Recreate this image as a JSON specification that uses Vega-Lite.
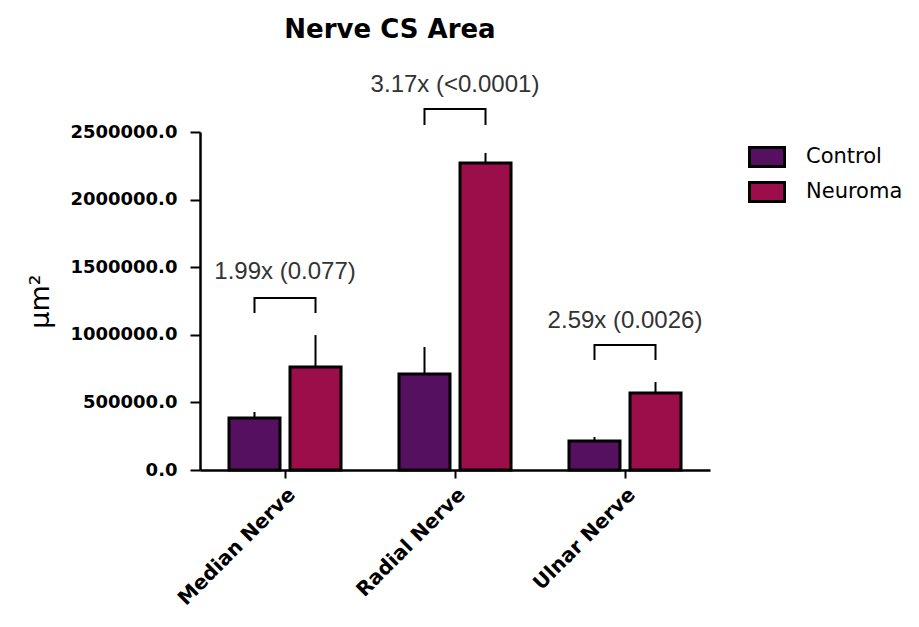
{
  "$schema": "https://vega.github.io/schema/vega-lite/v6.json",
  "width": 510,
  "height": 338,
  "autosize": {"type": "none"},
  "padding": {"left": 200, "top": 132, "right": 209, "bottom": 157},
  "background": "white",
  "title": {"text": "Nerve CS Area", "font": "DejaVu Sans", "fontSize": 26, "fontWeight": "bold", "color": "black", "dx": -65, "offset": 30},
  "config": {"view": {"stroke": null}, "font": "DejaVu Sans"},
  "datasets": {
    "bars": [
      {"nerve": "Median Nerve", "group": "Control", "mean": 385000, "upper": 429000},
      {"nerve": "Median Nerve", "group": "Neuroma", "mean": 762000, "upper": 998000},
      {"nerve": "Radial Nerve", "group": "Control", "mean": 710000, "upper": 910000},
      {"nerve": "Radial Nerve", "group": "Neuroma", "mean": 2271000, "upper": 2345000},
      {"nerve": "Ulnar Nerve", "group": "Control", "mean": 215000, "upper": 244000},
      {"nerve": "Ulnar Nerve", "group": "Neuroma", "mean": 570000, "upper": 651000}
    ],
    "brackets": [
      {"nerve": "Median Nerve", "group": "Control", "v": 1161000, "ord": 1},
      {"nerve": "Median Nerve", "group": "Control", "v": 1272000, "ord": 2},
      {"nerve": "Median Nerve", "group": "Neuroma", "v": 1272000, "ord": 3},
      {"nerve": "Median Nerve", "group": "Neuroma", "v": 1161000, "ord": 4},
      {"nerve": "Radial Nerve", "group": "Control", "v": 2552000, "ord": 1},
      {"nerve": "Radial Nerve", "group": "Control", "v": 2670000, "ord": 2},
      {"nerve": "Radial Nerve", "group": "Neuroma", "v": 2670000, "ord": 3},
      {"nerve": "Radial Nerve", "group": "Neuroma", "v": 2552000, "ord": 4},
      {"nerve": "Ulnar Nerve", "group": "Control", "v": 814000, "ord": 1},
      {"nerve": "Ulnar Nerve", "group": "Control", "v": 924000, "ord": 2},
      {"nerve": "Ulnar Nerve", "group": "Neuroma", "v": 924000, "ord": 3},
      {"nerve": "Ulnar Nerve", "group": "Neuroma", "v": 814000, "ord": 4}
    ],
    "labels": [
      {"nerve": "Median Nerve", "label": "1.99x (0.077)", "ty": 1464000},
      {"nerve": "Radial Nerve", "label": "3.17x (<0.0001)", "ty": 2848000},
      {"nerve": "Ulnar Nerve", "label": "2.59x (0.0026)", "ty": 1102000}
    ]
  },
  "layer": [
    {
      "data": {"name": "bars"},
      "mark": {"type": "bar", "stroke": "black", "strokeWidth": 3},
      "encoding": {
        "x": {"field": "nerve", "type": "nominal", "sort": ["Median Nerve", "Radial Nerve", "Ulnar Nerve"],
          "scale": {"paddingInner": 0, "paddingOuter": 0},
          "axis": {"title": null, "labelAngle": -45, "labelFont": "DejaVu Sans", "labelFontWeight": "bold", "labelFontSize": 20, "labelColor": "black", "domainColor": "black", "domainWidth": 2.5, "tickColor": "black", "tickWidth": 2, "tickSize": 8, "bandPosition": 0.5, "labelPadding": 6}},
        "xOffset": {"field": "group", "type": "nominal", "sort": ["Control", "Neuroma"], "scale": {"paddingInner": 0.164, "paddingOuter": 0.475}},
        "y": {"field": "mean", "type": "quantitative", "stack": null,
          "scale": {"domain": [0, 2500000], "nice": false},
          "axis": {"title": "μm²", "titleFont": "DejaVu Sans", "titleFontSize": 27, "titleFontWeight": "normal", "titleColor": "black", "titleAngle": -90, "titleX": -160, "titleY": 169, "titleAlign": "center", "titleBaseline": "middle",
            "values": [0, 500000, 1000000, 1500000, 2000000, 2500000], "format": ".1f", "grid": false,
            "labelFont": "DejaVu Sans", "labelFontWeight": "bold", "labelFontSize": 18, "labelColor": "black", "labelPadding": 13,
            "domainColor": "black", "domainWidth": 2.5, "tickColor": "black", "tickWidth": 2, "tickSize": 10}},
        "color": {"field": "group", "type": "nominal",
          "scale": {"domain": ["Control", "Neuroma"], "range": ["#561060", "#9b0e4a"]},
          "legend": {"title": null, "orient": "none", "legendX": 548, "legendY": 6, "symbolType": "M-1,-0.54L1,-0.54L1,0.54L-1,0.54Z", "symbolSize": 1225, "symbolStrokeColor": "black", "symbolStrokeWidth": 3, "symbolOpacity": 1, "labelFont": "DejaVu Sans", "labelFontSize": 21, "labelColor": "black", "labelOffset": 20, "rowPadding": 0, "padding": 0}}
      }
    },
    {
      "data": {"name": "bars"},
      "mark": {"type": "rule", "color": "black", "strokeWidth": 2},
      "encoding": {
        "x": {"field": "nerve", "type": "nominal", "sort": ["Median Nerve", "Radial Nerve", "Ulnar Nerve"]},
        "xOffset": {"field": "group", "type": "nominal", "sort": ["Control", "Neuroma"]},
        "y": {"field": "mean", "type": "quantitative"},
        "y2": {"field": "upper"}
      }
    },
    {
      "data": {"name": "brackets"},
      "mark": {"type": "line", "color": "black", "strokeWidth": 2},
      "encoding": {
        "x": {"field": "nerve", "type": "nominal", "sort": ["Median Nerve", "Radial Nerve", "Ulnar Nerve"]},
        "xOffset": {"field": "group", "type": "nominal", "sort": ["Control", "Neuroma"]},
        "y": {"field": "v", "type": "quantitative"},
        "detail": {"field": "nerve"},
        "order": {"field": "ord", "type": "quantitative"}
      }
    },
    {
      "data": {"name": "labels"},
      "mark": {"type": "text", "font": "Liberation Sans", "fontSize": 24, "color": "#333333", "align": "center", "baseline": "middle"},
      "encoding": {
        "x": {"field": "nerve", "type": "nominal", "sort": ["Median Nerve", "Radial Nerve", "Ulnar Nerve"]},
        "y": {"field": "ty", "type": "quantitative"},
        "text": {"field": "label"}
      }
    }
  ]
}
